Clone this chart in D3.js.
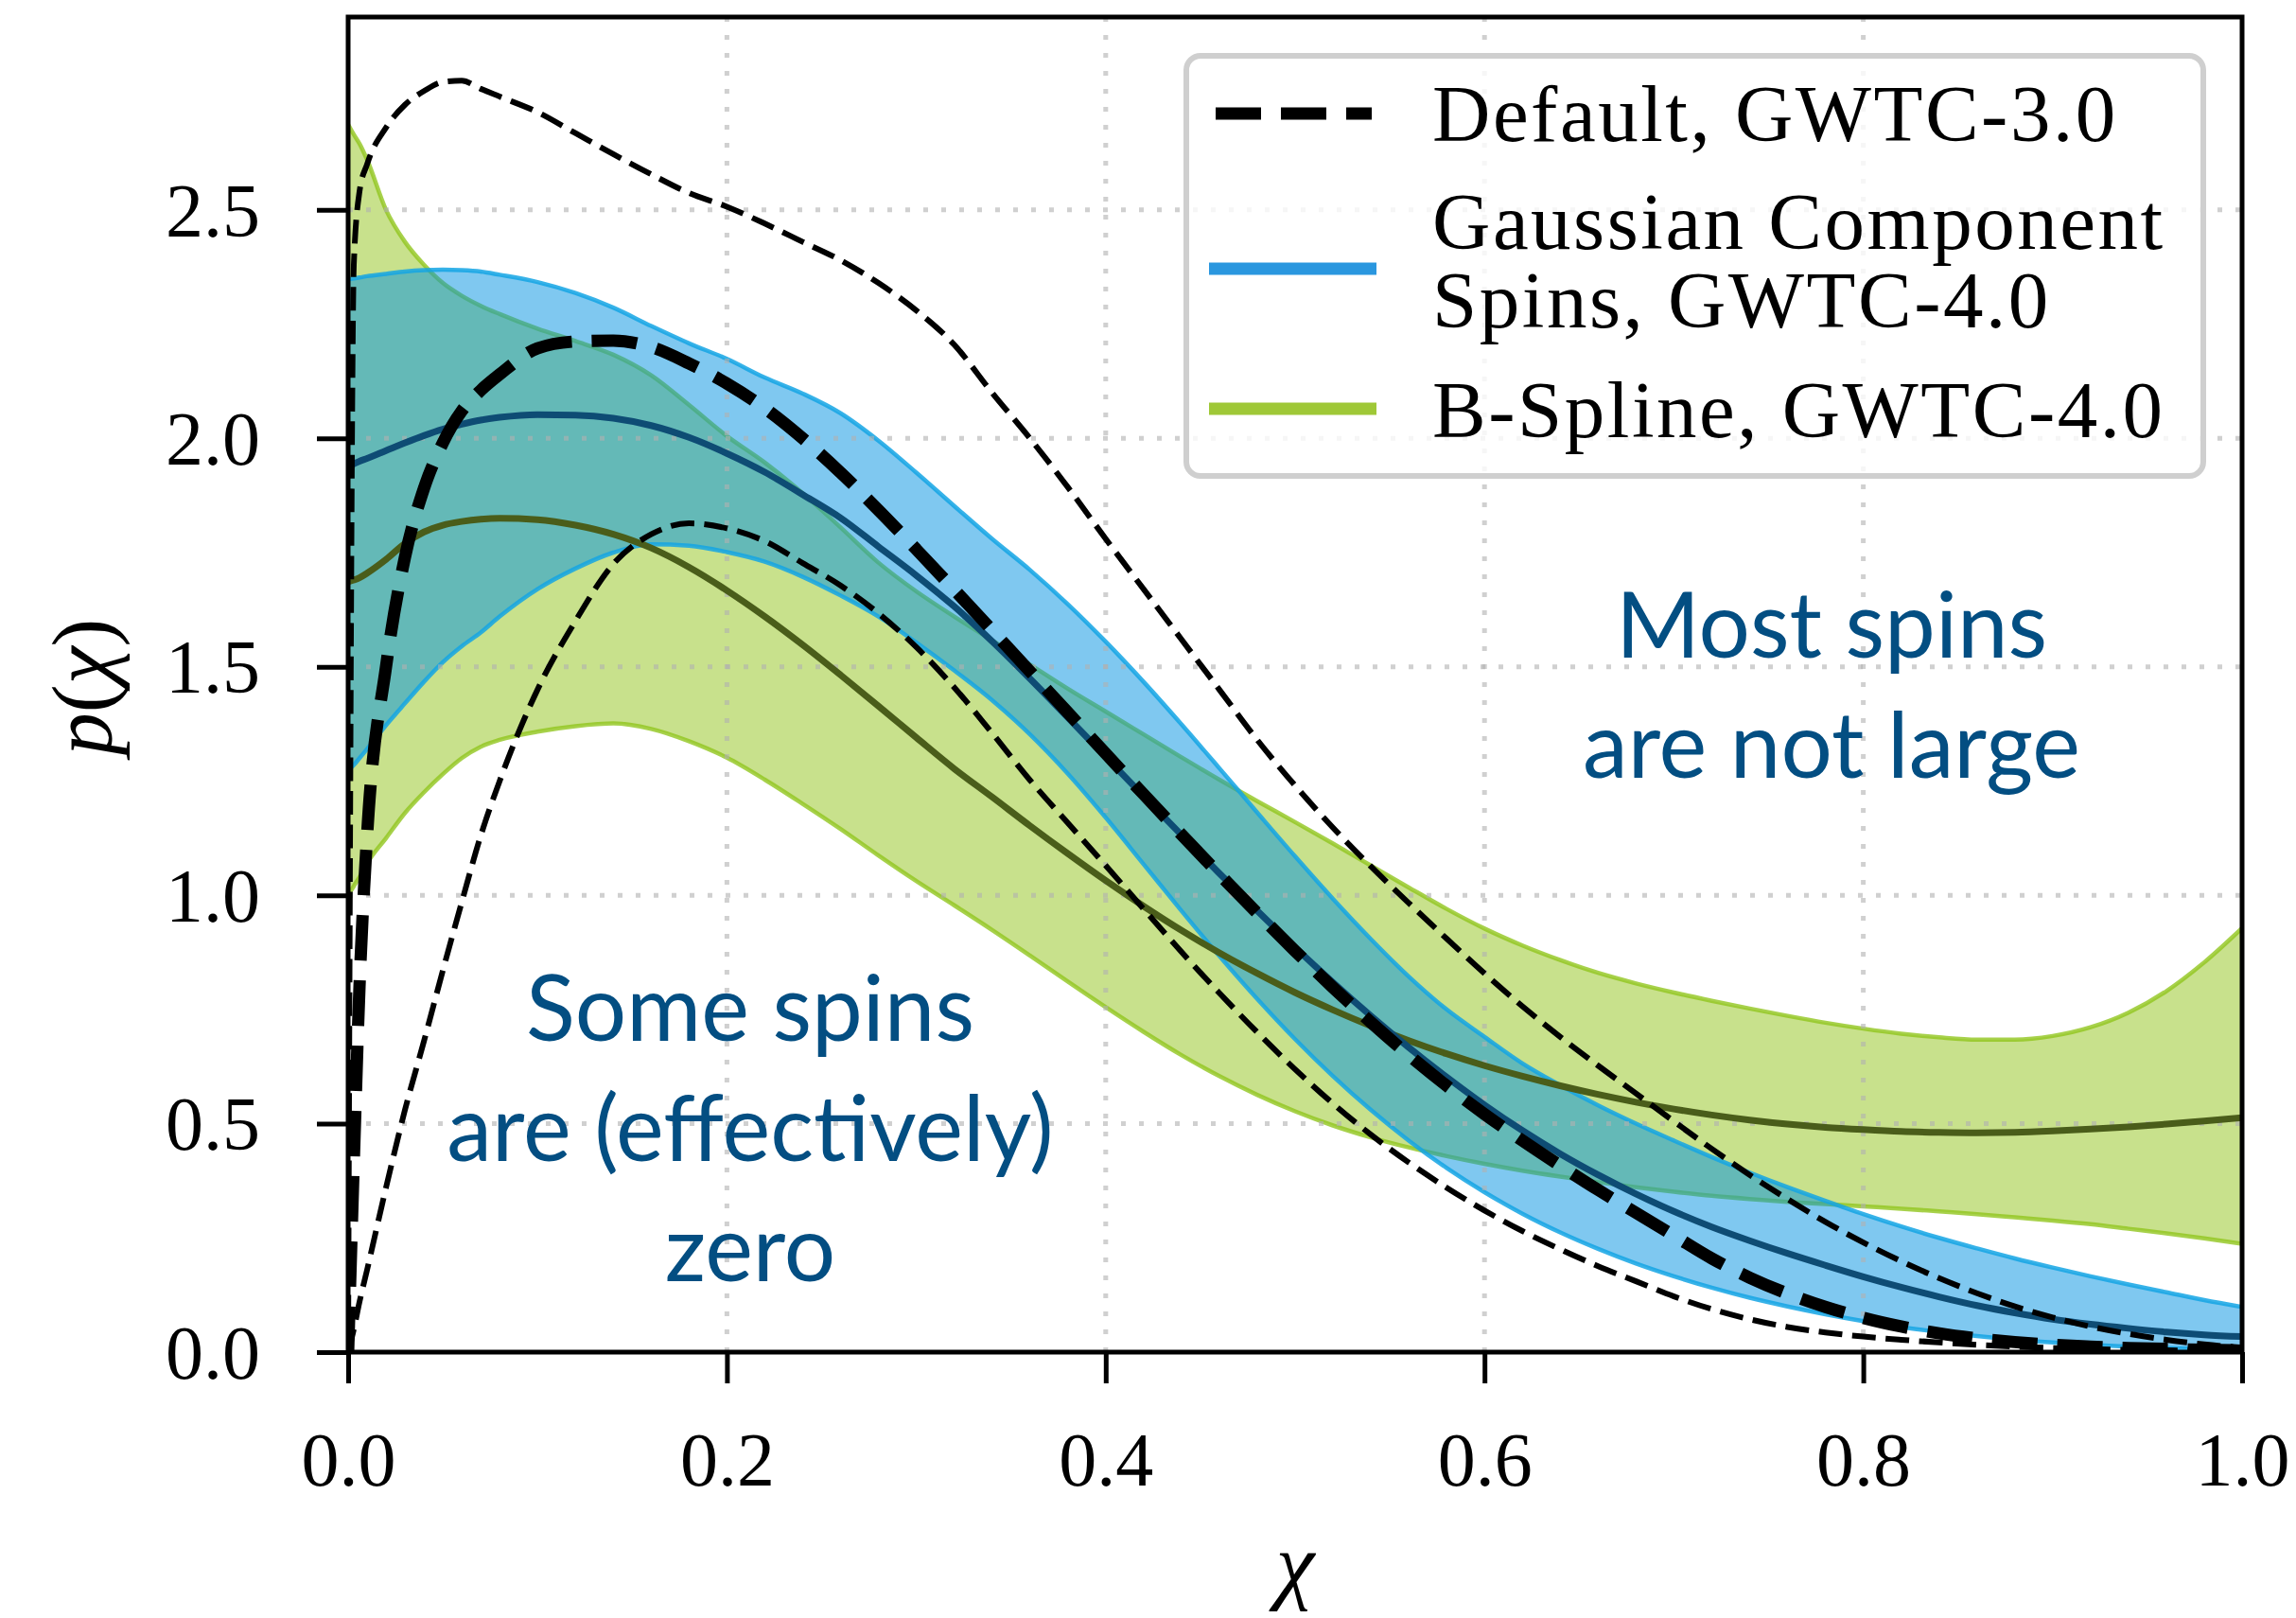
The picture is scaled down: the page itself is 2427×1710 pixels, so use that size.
<!DOCTYPE html>
<html>
<head>
<meta charset="utf-8">
<script src="https://cdn.jsdelivr.net/npm/d3@7"></script>
<style>
  html, body { margin: 0; padding: 0; background: #ffffff; }
  svg { display: block; }
</style>
</head>
<body>
<svg id="chart" width="2427" height="1710"></svg>
<script>
// Spin magnitude grid (chi) shared by every curve
const chi = [0, 0.003, 0.006, 0.01, 0.02, 0.03, 0.04, 0.05, 0.06, 0.07, 0.08,
  0.10, 0.12, 0.14, 0.16, 0.18, 0.20, 0.22, 0.24, 0.26, 0.28, 0.30, 0.32, 0.34, 0.36, 0.38,
  0.40, 0.42, 0.44, 0.46, 0.48, 0.50, 0.52, 0.54, 0.56, 0.58, 0.60, 0.62, 0.64, 0.66, 0.68,
  0.70, 0.72, 0.74, 0.76, 0.78, 0.80, 0.82, 0.84, 0.86, 0.88, 0.90, 0.92, 0.94, 0.96, 0.98, 1.00];

// Default model, GWTC-3.0: median and 90% bounds
const defaultUpper = [0, 2.38, 2.54, 2.60, 2.68, 2.73, 2.76, 2.78, 2.783, 2.765, 2.748,
  2.714, 2.668, 2.622, 2.578, 2.537, 2.507, 2.47, 2.43, 2.39, 2.34, 2.28, 2.205, 2.10, 2.00, 1.893,
  1.78, 1.67, 1.56, 1.45, 1.34, 1.24, 1.148, 1.063, 0.983, 0.905, 0.829, 0.757, 0.69, 0.627, 0.566,
  0.505, 0.445, 0.388, 0.335, 0.285, 0.24, 0.199, 0.162, 0.129, 0.100, 0.076, 0.056, 0.040, 0.027, 0.017, 0.01];
const defaultMedian = [0, 0.42, 0.80, 1.13, 1.50, 1.74, 1.89, 1.99, 2.06, 2.105, 2.14,
  2.197, 2.212, 2.214, 2.20, 2.164, 2.12, 2.066, 2.00, 1.925, 1.843, 1.757, 1.669, 1.58, 1.49, 1.40,
  1.31, 1.221, 1.133, 1.046, 0.961, 0.878, 0.798, 0.722, 0.65, 0.583, 0.521, 0.463, 0.408, 0.355, 0.305,
  0.255, 0.205, 0.163, 0.128, 0.099, 0.075, 0.056, 0.041, 0.030, 0.022, 0.016, 0.012, 0.009, 0.007, 0.005, 0.004];
const defaultLower = [0, 0.05, 0.11, 0.18, 0.36, 0.53, 0.68, 0.835, 0.985, 1.13, 1.25,
  1.45, 1.60, 1.725, 1.79, 1.814, 1.803, 1.775, 1.727, 1.678, 1.617, 1.543, 1.455, 1.355, 1.252, 1.158,
  1.065, 0.97, 0.876, 0.786, 0.70, 0.619, 0.544, 0.476, 0.415, 0.36, 0.31, 0.265, 0.225, 0.188, 0.155,
  0.122, 0.094, 0.072, 0.055, 0.043, 0.034, 0.027, 0.021, 0.016, 0.012, 0.009, 0.007, 0.005, 0.004, 0.003, 0.002];

// Gaussian component spins, GWTC-4.0
const gaussUpper = [2.348, 2.35, 2.352, 2.355, 2.36, 2.365, 2.368, 2.369, 2.368, 2.365, 2.358,
  2.342, 2.318, 2.286, 2.246, 2.208, 2.174, 2.133, 2.098, 2.055, 1.995, 1.925, 1.852, 1.78, 1.712, 1.637,
  1.555, 1.467, 1.374, 1.278, 1.181, 1.085, 0.992, 0.904, 0.822, 0.75, 0.69, 0.632, 0.584, 0.54, 0.50,
  0.463, 0.427, 0.393, 0.361, 0.331, 0.302, 0.275, 0.25, 0.227, 0.205, 0.185, 0.166, 0.148, 0.131, 0.114, 0.099];
const gaussMedian = [1.939, 1.944, 1.95, 1.956, 1.973, 1.99, 2.006, 2.02, 2.031, 2.04, 2.046,
  2.052, 2.051, 2.044, 2.028, 2.002, 1.967, 1.926, 1.877, 1.826, 1.763, 1.70, 1.632, 1.556, 1.474, 1.389,
  1.303, 1.217, 1.132, 1.048, 0.966, 0.886, 0.809, 0.736, 0.667, 0.602, 0.541, 0.485, 0.434, 0.388, 0.346,
  0.308, 0.274, 0.244, 0.216, 0.19, 0.165, 0.142, 0.121, 0.102, 0.086, 0.072, 0.061, 0.052, 0.044, 0.038, 0.034];
const gaussLower = [1.273, 1.285, 1.30, 1.32, 1.372, 1.42, 1.467, 1.51, 1.545, 1.575, 1.61,
  1.67, 1.715, 1.75, 1.768, 1.765, 1.751, 1.73, 1.697, 1.656, 1.61, 1.553, 1.492, 1.427, 1.352, 1.266,
  1.17, 1.068, 0.966, 0.867, 0.773, 0.685, 0.604, 0.53, 0.463, 0.403, 0.35, 0.303, 0.262, 0.226, 0.194,
  0.166, 0.141, 0.119, 0.10, 0.083, 0.068, 0.055, 0.044, 0.035, 0.027, 0.021, 0.016, 0.012, 0.009, 0.007, 0.005];

// B-Spline model, GWTC-4.0
const splineUpper = [2.687, 2.665, 2.645, 2.61, 2.50, 2.43, 2.38, 2.34, 2.312, 2.29, 2.272,
  2.24, 2.213, 2.183, 2.138, 2.073, 2.005, 1.947, 1.88, 1.805, 1.728, 1.665, 1.61, 1.558, 1.505, 1.452,
  1.402, 1.352, 1.302, 1.253, 1.206, 1.16, 1.113, 1.065, 1.017, 0.97, 0.927, 0.89, 0.858, 0.83, 0.807,
  0.787, 0.769, 0.752, 0.736, 0.721, 0.708, 0.697, 0.689, 0.684, 0.684, 0.692, 0.711, 0.743, 0.79, 0.853, 0.928];
const splineMedian = [1.686, 1.69, 1.695, 1.705, 1.735, 1.77, 1.795, 1.81, 1.818, 1.823, 1.825,
  1.822, 1.81, 1.79, 1.76, 1.718, 1.667, 1.61, 1.548, 1.482, 1.414, 1.345, 1.277, 1.215, 1.152, 1.091,
  1.032, 0.976, 0.923, 0.874, 0.829, 0.787, 0.749, 0.714, 0.682, 0.653, 0.627, 0.604, 0.583, 0.564, 0.547,
  0.532, 0.519, 0.508, 0.499, 0.492, 0.487, 0.483, 0.481, 0.480, 0.481, 0.484, 0.488, 0.493, 0.499, 0.506, 0.513];
const splineLower = [1.0, 1.02, 1.04, 1.07, 1.125, 1.18, 1.225, 1.265, 1.30, 1.325, 1.34,
  1.358, 1.37, 1.376, 1.364, 1.337, 1.301, 1.253, 1.20, 1.145, 1.087, 1.031, 0.978, 0.924, 0.868, 0.811,
  0.755, 0.701, 0.65, 0.604, 0.563, 0.527, 0.496, 0.47, 0.448, 0.429, 0.412, 0.397, 0.384, 0.372, 0.361,
  0.351, 0.342, 0.335, 0.329, 0.324, 0.319, 0.314, 0.308, 0.302, 0.295, 0.288, 0.28, 0.27, 0.26, 0.249, 0.237];

// Axis ticks and text
const xTicks = [0.0, 0.2, 0.4, 0.6, 0.8, 1.0];
const yTicks = [0.0, 0.5, 1.0, 1.5, 2.0, 2.5];
const legendEntries = [
  { lines: ["Default, GWTC-3.0"], kind: "dashed" },
  { lines: ["Gaussian Component", "Spins, GWTC-4.0"], kind: "gauss" },
  { lines: ["B-Spline, GWTC-4.0"], kind: "spline" }
];
const noteLeft = ["Some spins", "are (effectively)", "zero"];
const noteRight = ["Most spins", "are not large"];

// ---- layout ----
const svg = d3.select("#chart");
const plot = { left: 368, right: 2370, top: 18, bottom: 1429 };
const yMax = d3.max(defaultUpper) * 1.05;

const x = d3.scaleLinear().domain([0, 1]).range([plot.left, plot.right]);
const y = d3.scaleLinear().domain([0, yMax]).range([plot.bottom, plot.top]);

const serif = "'Liberation Serif', 'Times New Roman', serif";
const sans = "Lato, 'Open Sans', 'Noto Sans', sans-serif";
const noteColor = "#034e82";

svg.append("rect").attr("width", 2427).attr("height", 1710).attr("fill", "#ffffff");

svg.append("defs").append("clipPath").attr("id", "plotClip")
  .append("rect")
  .attr("x", plot.left).attr("y", plot.top)
  .attr("width", plot.right - plot.left).attr("height", plot.bottom - plot.top);

const pts = vals => chi.map((c, i) => [c, vals[i]]);
const band = (lo, hi) => chi.map((c, i) => ({ c, lo: lo[i], hi: hi[i] }));

const area = d3.area()
  .x(d => x(d.c)).y0(d => y(d.lo)).y1(d => y(d.hi))
  .curve(d3.curveMonotoneX);
const line = d3.line()
  .x(d => x(d[0])).y(d => y(d[1]))
  .curve(d3.curveMonotoneX);

const clipped = svg.append("g").attr("clip-path", "url(#plotClip)");

// B-Spline band (drawn first, underneath)
const gSpline = clipped.append("g");
gSpline.append("path").datum(band(splineLower, splineUpper))
  .attr("d", area).attr("fill", "rgba(145,195,25,0.5)");
[splineLower, splineUpper].forEach(v => {
  gSpline.append("path").datum(pts(v)).attr("d", line)
    .attr("fill", "none").attr("stroke", "rgba(145,198,30,0.8)").attr("stroke-width", 4.5);
});

// Gaussian component band on top
const gGauss = clipped.append("g");
gGauss.append("path").datum(band(gaussLower, gaussUpper))
  .attr("d", area).attr("fill", "rgba(0,145,225,0.5)");
[gaussLower, gaussUpper].forEach(v => {
  gGauss.append("path").datum(pts(v)).attr("d", line)
    .attr("fill", "none").attr("stroke", "rgba(20,165,228,0.85)").attr("stroke-width", 4.5);
});

// dotted grid
const grid = clipped.append("g")
  .attr("stroke", "rgba(176,176,176,0.6)").attr("stroke-width", 5)
  .attr("stroke-dasharray", "5,14");
grid.selectAll("line.gx").data(xTicks.filter(t => t > 0 && t < 1)).join("line")
  .attr("x1", d => x(d)).attr("x2", d => x(d))
  .attr("y1", plot.bottom).attr("y2", plot.top);
grid.selectAll("line.gy").data(yTicks.filter(t => t > 0)).join("line")
  .attr("x1", plot.left).attr("x2", plot.right)
  .attr("y1", d => y(d)).attr("y2", d => y(d));

// median curves of the two GWTC-4.0 models
clipped.append("path").datum(pts(splineMedian)).attr("d", line)
  .attr("fill", "none").attr("stroke", "#4a5d1a").attr("stroke-width", 7);
clipped.append("path").datum(pts(gaussMedian)).attr("d", line)
  .attr("fill", "none").attr("stroke", "#0e4c74").attr("stroke-width", 7);

// Default GWTC-3.0 curves
[defaultUpper, defaultLower].forEach(v => {
  clipped.append("path").datum(pts(v)).attr("d", line)
    .attr("fill", "none").attr("stroke", "#000").attr("stroke-width", 6)
    .attr("stroke-dasharray", "25,10.5");
});
clipped.append("path").datum(pts(defaultMedian)).attr("d", line)
  .attr("fill", "none").attr("stroke", "#000").attr("stroke-width", 13)
  .attr("stroke-dasharray", "48,21");

// axes
const xAxis = d3.axisBottom(x).tickValues(xTicks).tickFormat(d3.format(".1f"))
  .tickSizeInner(33).tickSizeOuter(0).tickPadding(0);
const yAxis = d3.axisLeft(y).tickValues(yTicks).tickFormat(d3.format(".1f"))
  .tickSizeInner(33).tickSizeOuter(0).tickPadding(0);

const gx = svg.append("g").attr("transform", `translate(0,${plot.bottom})`).call(xAxis);
const gy = svg.append("g").attr("transform", `translate(${plot.left},0)`).call(yAxis);
[gx, gy].forEach(g => {
  g.select(".domain").remove();
  g.selectAll(".tick line").attr("stroke", "#000").attr("stroke-width", 5);
  g.selectAll(".tick text").attr("fill", "#000")
    .style("font-family", serif).style("font-size", "80px");
});
gx.selectAll(".tick text").attr("y", 141).attr("dy", 0).attr("text-anchor", "middle");
gy.selectAll(".tick text").attr("x", -93).attr("dy", "0.34em").attr("text-anchor", "end");

// frame
svg.append("rect")
  .attr("x", plot.left).attr("y", plot.top)
  .attr("width", plot.right - plot.left).attr("height", plot.bottom - plot.top)
  .attr("fill", "none").attr("stroke", "#000").attr("stroke-width", 5);

// axis titles
svg.append("text")
  .attr("x", (plot.left + plot.right) / 2).attr("y", 1684)
  .attr("text-anchor", "middle")
  .style("font-family", serif).style("font-size", "92px").style("font-style", "italic")
  .text("χ");

const ylab = svg.append("text")
  .attr("transform", "translate(118,726) rotate(-90)")
  .attr("text-anchor", "middle")
  .style("font-family", serif).style("font-size", "90px");
ylab.append("tspan").style("font-style", "italic").text("p");
ylab.append("tspan").text("(");
ylab.append("tspan").style("font-style", "italic").text("χ");
ylab.append("tspan").text(")");

// legend
const legend = svg.append("g");
legend.append("rect")
  .attr("x", 1254).attr("y", 59).attr("width", 1075).attr("height", 444)
  .attr("rx", 15).attr("ry", 15)
  .attr("fill", "rgba(255,255,255,0.8)")
  .attr("stroke", "#cfcfcf").attr("stroke-width", 6);

const handleY = [120, 284, 432];
const textBase = [149, 263, 462];
const lineStep = 83;
legendEntries.forEach((e, i) => {
  const h = legend.append("line")
    .attr("y1", handleY[i]).attr("y2", handleY[i]).attr("stroke-width", 13);
  if (e.kind === "dashed") {
    h.attr("x1", 1285).attr("x2", 1450).attr("stroke", "#000").attr("stroke-dasharray", "48,21");
  } else {
    h.attr("x1", 1278).attr("x2", 1455)
      .attr("stroke", e.kind === "gauss" ? "#2a97df" : "#9fc837");
  }
  const label = legend.append("text")
    .attr("x", 1514).attr("y", textBase[i])
    .style("font-family", serif).style("font-size", "85px")
    .style("letter-spacing", "2.5px")
    .attr("fill", "#000");
  e.lines.forEach((t, j) => {
    label.append("tspan").attr("x", 1514).attr("dy", j === 0 ? 0 : lineStep).text(t);
  });
});

// annotations
const noteBase1 = [1100, 1227, 1354];
noteLeft.forEach((t, i) => {
  svg.append("text").attr("x", 793).attr("y", noteBase1[i])
    .attr("text-anchor", "middle").attr("fill", noteColor)
    .style("font-family", sans).style("font-size", "96px").text(t);
});
const noteBase2 = [695, 822];
noteRight.forEach((t, i) => {
  svg.append("text").attr("x", 1936).attr("y", noteBase2[i])
    .attr("text-anchor", "middle").attr("fill", noteColor)
    .style("font-family", sans).style("font-size", "96px").text(t);
});
</script>
</body>
</html>
